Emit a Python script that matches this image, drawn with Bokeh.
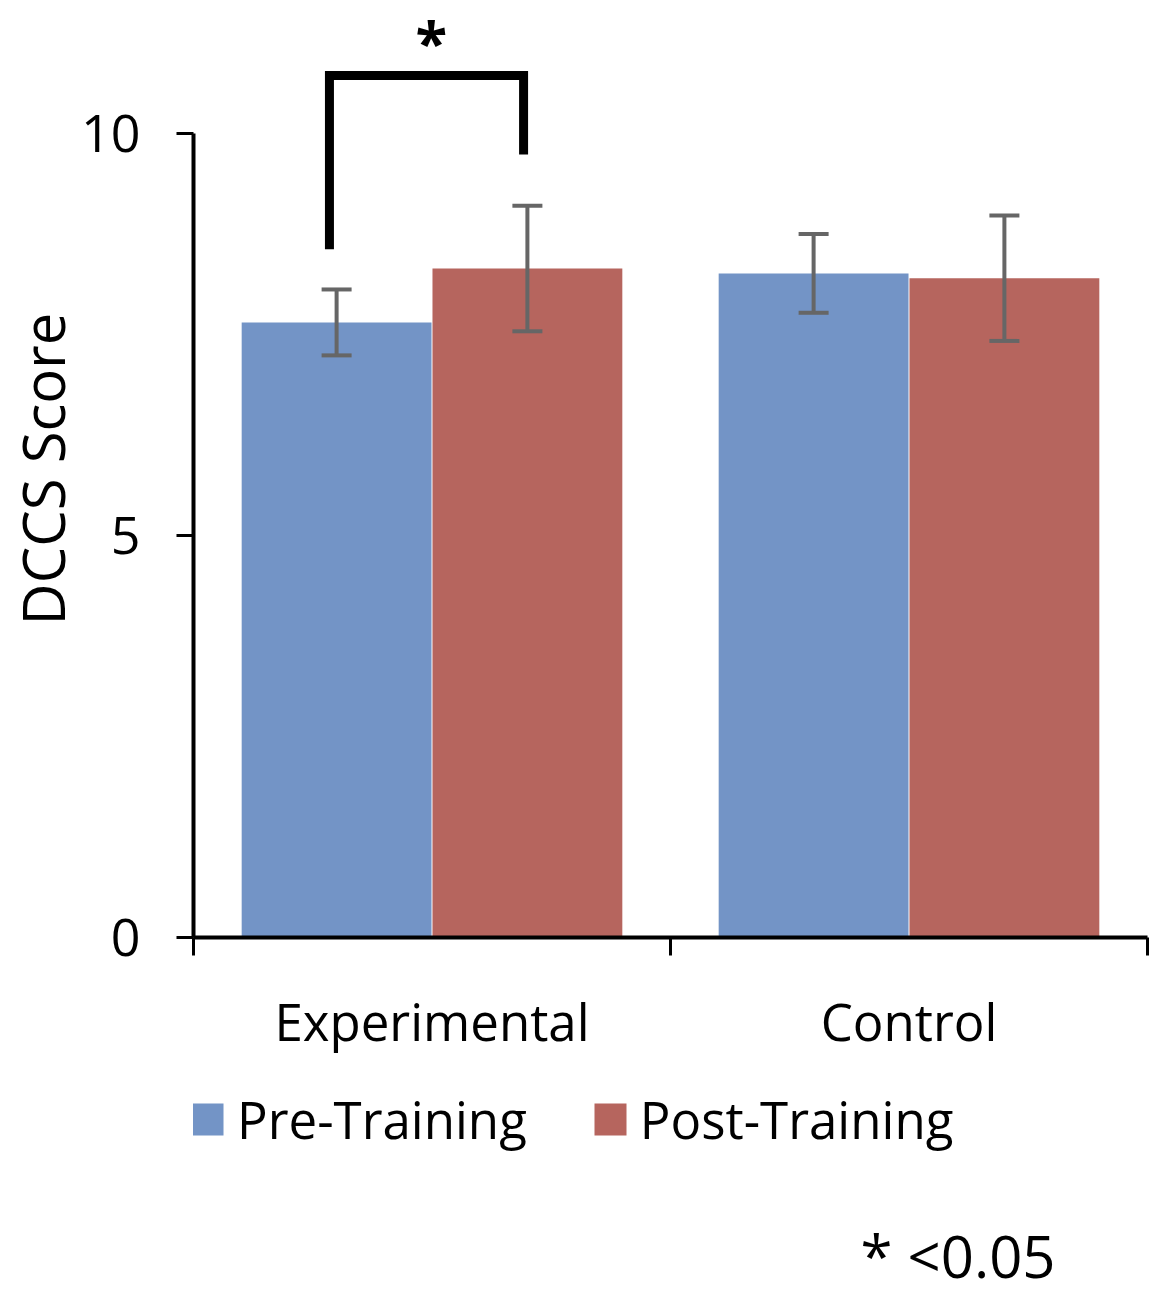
from bokeh.plotting import figure
from bokeh.layouts import column
from bokeh.models import (Range1d, FixedTicker, Whisker, ColumnDataSource, Legend,
                          LegendItem, Label, TeeHead)
from bokeh.core.properties import value
from bokeh.embed import file_html
from bokeh.resources import INLINE

# ---- data ----
groups = ["Experimental", "Control"]
series = ["Pre-Training", "Post-Training"]
pre_mean = [7.65, 8.26]
post_mean = [8.32, 8.20]
pre_err = [0.41, 0.49]
post_err = [0.78, 0.78]
y_ticks = [0, 5, 10]
sig_bracket_y = [10.72, 8.56, 9.74]   # top, left foot, right foot
sig_label = "*"
note_text = "* <0.05"

FONT = "Open Sans"
BLUE = "#7394C6"
RED = "#B6655E"
ERR = "#666666"
W = 1155

# ---------------- main chart ----------------
p = figure(width=W, height=1062, output_backend="svg", toolbar_location=None,
           x_range=Range1d(0, 2), y_range=Range1d(0, 11.654),
           min_border_left=193, min_border_right=8, min_border_top=0,
           min_border_bottom=125)
p.outline_line_color = None
p.xgrid.grid_line_color = None
p.ygrid.grid_line_color = None

offsets = [-0.2, 0.2]
bar_width = 0.398
means = [pre_mean, post_mean]
errs = [pre_err, post_err]
colors = [BLUE, RED]
xs_all = []
sources = []
for k in range(2):
    xs = [i + 0.5 + offsets[k] for i in range(len(groups))]
    xs_all.append(xs)
    src = ColumnDataSource(dict(
        x=xs, top=means[k],
        upper=[m + e for m, e in zip(means[k], errs[k])],
        lower=[m - e for m, e in zip(means[k], errs[k])]))
    sources.append(src)
    p.vbar(x="x", top="top", width=bar_width, bottom=0, source=src,
           fill_color=colors[k], line_color=None)
    w = Whisker(base="x", upper="upper", lower="lower", source=src,
                line_color=ERR, line_width=4, level="overlay",
                upper_head=TeeHead(size=30, line_color=ERR, line_width=4),
                lower_head=TeeHead(size=30, line_color=ERR, line_width=4))
    p.add_layout(w)

# significance bracket between Experimental pre and post
xl = xs_all[0][0] - 0.015
xr = xs_all[1][0] - 0.008
p.line(x=[xl, xl, xr, xr], y=[sig_bracket_y[1], sig_bracket_y[0], sig_bracket_y[0], sig_bracket_y[2]],
       line_color="black", line_width=9, line_join="miter")
p.text(x=[(xl + xr) / 2 + 0.01], y=[11.64], text=[sig_label], text_font=value(FONT),
       text_font_size="58px", text_font_style="bold", text_align="center",
       text_baseline="top", text_color="black")

# axes
ya = p.yaxis[0]
ya.ticker = FixedTicker(ticks=y_ticks)
ya.bounds = (0, 10)
ya.minor_tick_line_color = None
ya.major_tick_in = 0
ya.major_tick_out = 17
ya.major_tick_line_width = 3
ya.axis_line_width = 4
ya.major_label_text_font = FONT
ya.major_label_text_font_size = "52px"
ya.major_label_text_color = "black"
ya.major_label_standoff = 36
ya.axis_label = "DCCS Score"
ya.axis_label_text_font = FONT
ya.axis_label_text_font_size = "58px"
ya.axis_label_text_font_style = "normal"
ya.axis_label_text_color = "black"
ya.axis_label_standoff = -4

xa = p.xaxis[0]
xa.ticker = FixedTicker(ticks=[i + 0.5 for i in range(len(groups))],
                        minor_ticks=list(range(len(groups) + 1)))
xa.major_label_overrides = {i + 0.5: g for i, g in enumerate(groups)}
xa.major_tick_line_color = None
xa.major_tick_in = 0
xa.major_tick_out = 0
xa.minor_tick_in = 0
xa.minor_tick_out = 18
xa.minor_tick_line_width = 3
xa.minor_tick_line_color = "black"
xa.axis_line_width = 4
xa.major_label_text_font = FONT
xa.major_label_text_font_size = "51px"
xa.major_label_text_color = "black"
xa.major_label_standoff = 30

# ---------------- legend + note strip (frame aligned with the chart's frame) ----------------
H2 = 238
p2 = figure(width=W, height=H2, output_backend="svg", toolbar_location=None,
            x_range=Range1d(0, 2), y_range=Range1d(0, 11.654),
            x_axis_location=None, y_axis_location=None, min_border=0)
p2.outline_line_color = None
p2.grid.visible = False
leg_renderers = []
for k in range(2):
    r = p2.vbar(x="x", top="top", width=bar_width, bottom=0, source=sources[k],
                fill_color=colors[k], line_color=None)
    r.visible = False
    leg_renderers.append(r)

legend = Legend(items=[LegendItem(label=series[k], renderers=[leg_renderers[k]]) for k in range(2)],
                orientation="horizontal", location=(-6, 146),
                glyph_width=40, glyph_height=40, label_standoff=10, spacing=63,
                padding=0, margin=0, border_line_color=None, background_fill_alpha=0,
                label_text_font=FONT, label_text_font_size="51px", label_text_color="black")
p2.add_layout(legend, "center")

p2.add_layout(Label(x=862, y=45, x_units="screen", y_units="screen", text=note_text,
                    text_font=FONT, text_font_size="58px", text_color="black",
                    text_align="right", text_baseline="alphabetic"))

layout = column(p, p2, spacing=0)
open("out.html", "w").write(file_html(layout, INLINE))
